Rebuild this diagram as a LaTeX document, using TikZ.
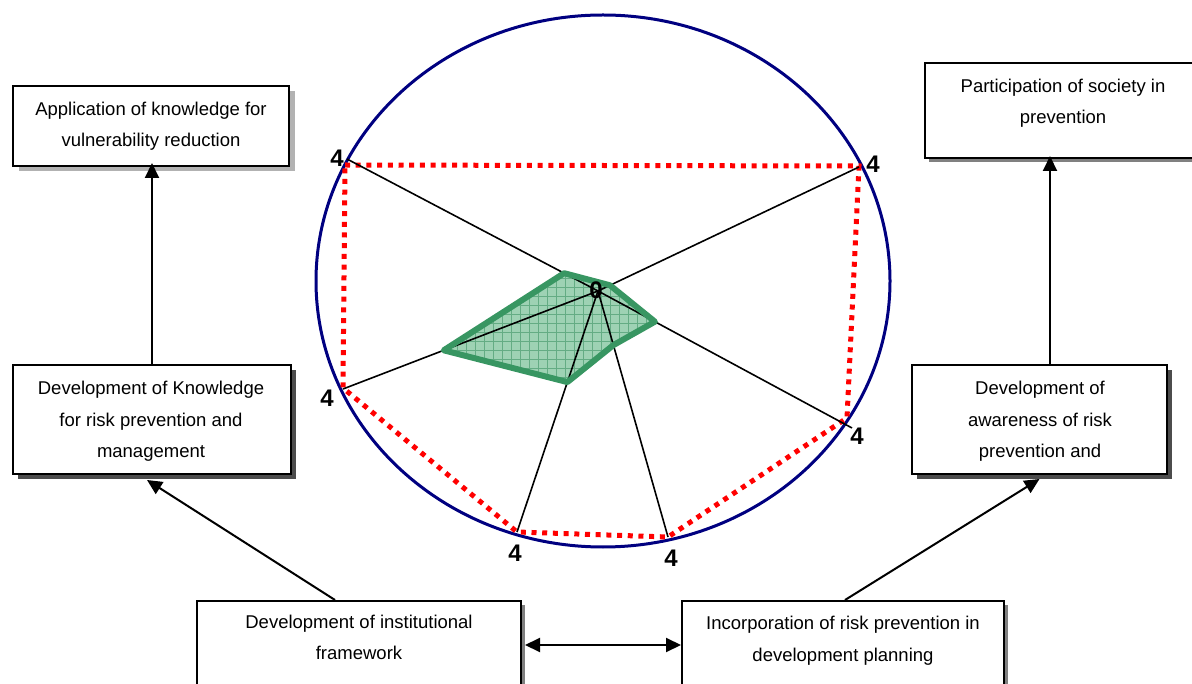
\documentclass[tikz,border=0pt]{standalone}
\usepackage{fontspec}
\setmainfont{Liberation Sans}
\usetikzlibrary{arrows.meta,shadows,calc}
\definecolor{ringblue}{RGB}{0,0,128}
\definecolor{seriesgreen}{RGB}{56,150,98}
\definecolor{seriesfill}{RGB}{158,210,180}
\definecolor{seriesgrid}{RGB}{100,172,132}
\begin{document}
\begin{tikzpicture}[x=1pt,y=-1pt,
  box/.style={draw=black, line width=2pt, fill=white, inner sep=0pt, rectangle},
  lightshadow/.style={general shadow={fill=black!30, draw=none, shadow xshift=6pt, shadow yshift=-5pt}},
  midshadow/.style={general shadow={fill=black!50, draw=none, shadow xshift=4pt, shadow yshift=-4pt}},
  darkshadow/.style={general shadow={fill=black!70, draw=none, shadow xshift=5pt, shadow yshift=-5pt}},
  boxtext/.style={align=center, inner sep=0pt, font=\fontsize{18.5}{31.5}\selectfont},
  axislabel/.style={inner sep=0pt, font=\fontsize{24}{24}\selectfont\bfseries},
  link/.style={line width=2pt, -{Triangle[length=15pt,width=14pt]}},
  twoway/.style={line width=2pt, {Triangle[length=15pt,width=14pt]}-{Triangle[length=15pt,width=14pt]}},
  spoke/.style={black, line width=1.6pt},
  ring/.style={draw=ringblue, line width=3pt},
  maxrun/.style={red, line width=5pt, dash pattern=on 5pt off 5.7pt},
  scorerun/.style={draw=seriesgreen, line width=6pt, line join=round},
  meshline/.style={draw=seriesgrid, line width=0.8pt}
]
\useasboundingbox (0,0) rectangle (1192,684);
\clip (0,0) rectangle (1192,684);

% ---- boxes ----
\node[box, lightshadow, minimum width=276pt, minimum height=80pt]  (b1) at (151,126) {};
\node[box, darkshadow,  minimum width=278pt, minimum height=109pt] (b2) at (152,419.5) {};
\node[box, midshadow,   minimum width=280pt, minimum height=95pt]  (b3) at (1065,110.5) {};
\node[box, darkshadow,  minimum width=255pt, minimum height=109pt] (b4) at (1039.5,419.5) {};
\node[box, midshadow,   minimum width=324pt, minimum height=119pt] (b5) at (359,660.5) {};
\node[box, midshadow,   minimum width=322pt, minimum height=119pt] (b6) at (843,660.5) {};

\node[boxtext] (t1) at (151,126)   {Application of knowledge for\\vulnerability reduction};
\node[boxtext] (t2) at (151,421.5) {Development of Knowledge\\for risk prevention and\\management};
\node[boxtext] (t3) at (1063,103)  {Participation of society in\\prevention};
\node[boxtext] (t4) at (1040,421.5){Development of\\awareness of risk\\prevention and};
\node[boxtext] (t5) at (359,637.5) {Development of institutional\\framework};
\node[boxtext] (t6) at (843,640.5) {Incorporation of risk prevention in\\development planning};

% ---- connectors ----
\draw[link, shorten >=-4pt] (b2.north) -- (b2.north |- b1.south);
\draw[link, shorten >=-3pt] ([xshift=10.5pt]b4.north) -- ([xshift=10.5pt]b4.north |- b3.south);
\draw[link] ([xshift=-24pt]b5.north) -- ([shift={(-5pt,-5pt)}]b2.south);
\draw[link] ([xshift=2pt]b6.north) -- ([yshift=-4pt]b4.south);
\draw[twoway] ([shift={(3pt,15.5pt)}]b5.east) -- ([yshift=15.5pt]b6.west);

% ---- radar chart ----
\draw[ring] (603,281) ellipse [x radius=287, y radius=266];

\coordinate (O)  at (598,291);
\coordinate (S1) at (347,159);
\coordinate (S2) at (859,167);
\coordinate (S3) at (852,428);
\coordinate (S4) at (668,537);
\coordinate (S5) at (517,532);
\coordinate (S6) at (343,389);

\coordinate (R1) at (345,165);
\coordinate (R2) at (859,166);
\coordinate (R3) at (847,418);
\coordinate (R4) at (668,537);
\coordinate (R5) at (517,532);
\coordinate (R6) at (343,388);

\coordinate (G1) at ($(O)!0.135!(S1)$);
\coordinate (G2) at ($(O)!0.046!(S2)$);
\coordinate (G3) at ($(O)!0.224!(S3)$);
\coordinate (G4) at ($(O)!0.220!(S4)$);
\coordinate (G5) at ($(O)!0.378!(S5)$);
\coordinate (G6) at ($(O)!0.605!(S6)$);

% outer series (all values at 4)
\draw[maxrun] (R1) -- (R2) -- (R3) -- (R4) -- (R5) -- (R6) -- cycle;

% inner series: meshed fill
\begin{scope}
  \clip (G1) -- (G2) -- (G3) -- (G4) -- (G5) -- (G6) -- cycle;
  \fill[seriesfill] (430,260) rectangle (670,395);
  \foreach \gx in {430,439,...,670} \draw[meshline] (\gx,260) -- (\gx,395);
  \foreach \gy in {260,269,...,395} \draw[meshline] (430,\gy) -- (670,\gy);
\end{scope}

% axes
\foreach \s in {S1,S2,S3,S4,S5,S6} \draw[spoke] (O) -- (\s);

\draw[scorerun] (G1) -- (G2) -- (G3) -- (G4) -- (G5) -- (G6) -- cycle;

% axis labels
\node[axislabel] (l0) at (596,290) {0};
\node[axislabel] (l1) at (337,158) {4};
\node[axislabel] (l2) at (873,164) {4};
\node[axislabel] (l3) at (327,398) {4};
\node[axislabel] (l4) at (857,436) {4};
\node[axislabel] (l5) at (515,553) {4};
\node[axislabel] (l6) at (671,558) {4};
\end{tikzpicture}
\end{document}
